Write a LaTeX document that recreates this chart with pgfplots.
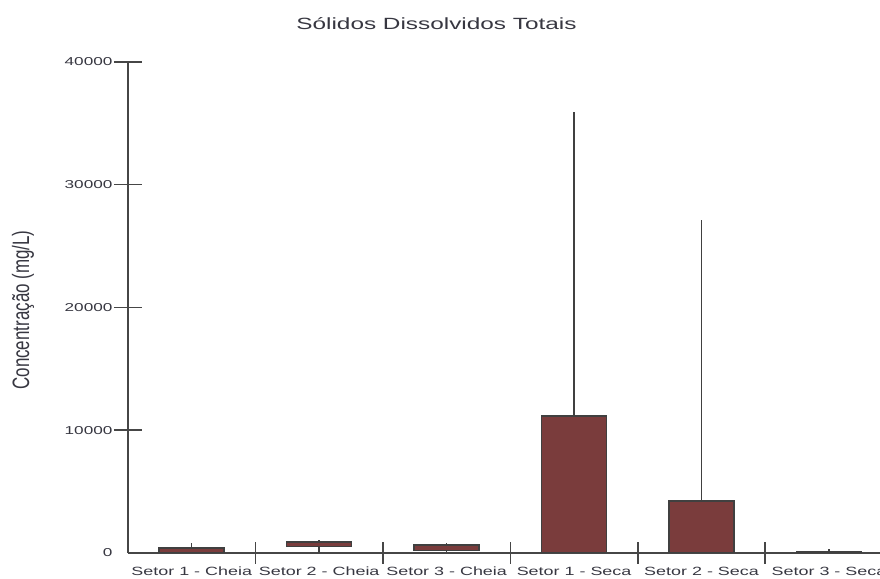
\documentclass[border=0pt]{standalone}
\usepackage{pgfplots}
\pgfplotsset{compat=1.18}
\usepackage{fontspec}
\setmainfont{Liberation Sans}
\definecolor{boxfill}{RGB}{122,60,60}
\definecolor{boxdraw}{RGB}{64,64,64}
\definecolor{txt}{RGB}{55,55,65}
\definecolor{axc}{RGB}{70,70,70}
\newcommand{\sx}[1]{\scalebox{1.5}[1]{#1}}
\begin{document}
\begin{tikzpicture}
\begin{axis}[
  at={(0bp,0bp)}, anchor=south west,
  scale only axis, width=752bp, height=491bp,
  xmin=-0.5, xmax=5.4, ymin=0, ymax=40000,
  axis lines*=left,
  axis line style={axc, line width=1.5bp},
  tick align=center,
  xtick={0,1,2,3,4,5},
  xticklabels={\sx{Setor 1 - Cheia},\sx{Setor 2 - Cheia},\sx{Setor 3 - Cheia},
    \sx{Setor 1 - Seca},\sx{Setor 2 - Seca},\sx{Setor 3 - Seca}},
  major x tick style={draw=none},
  minor xtick={0.5,1.5,2.5,3.5,4.5},
  minor tick length=21bp,
  minor x tick style={axc, line width=1.6bp},
  ytick={10000,20000,30000,40000},
  yticklabels={\sx{10000},\sx{20000},\sx{30000},\sx{40000}},
  extra y ticks={0},
  extra y tick labels={\sx{0}},
  extra y tick style={major tick length=0pt, tick label style={xshift=-14bp}},
  major tick length=28bp,
  major y tick style={axc, line width=1.5bp},
  scaled y ticks=false,
  yticklabel style={font=\fontsize{11.5}{13}\selectfont, text=txt, anchor=east, xshift=2bp},
  xticklabel style={font=\fontsize{12}{14}\selectfont, text=txt, anchor=base, yshift=-8bp},
]
% whiskers
\addplot[boxdraw, line width=1.5bp] coordinates {(0,420) (0,850)};
\addplot[boxdraw, line width=1.5bp] coordinates {(1,0) (1,520)};
\addplot[boxdraw, line width=1.5bp] coordinates {(1,900) (1,1050)};
\addplot[boxdraw, line width=1.5bp] coordinates {(2,100) (2,200)};
\addplot[boxdraw, line width=1.5bp] coordinates {(2,650) (2,850)};
\addplot[boxdraw, line width=1.5bp] coordinates {(3,11150) (3,35900)};
\addplot[boxdraw, line width=1.5bp] coordinates {(4,4250) (4,27100)};
\addplot[boxdraw, line width=1.5bp] coordinates {(5,130) (5,300)};
% boxes
\addplot[fill=boxfill, draw=boxdraw, line width=1.5bp] coordinates {(-0.255,30) (0.255,30) (0.255,420) (-0.255,420)} -- cycle;
\addplot[fill=boxfill, draw=boxdraw, line width=1.5bp] coordinates {(0.745,520) (1.255,520) (1.255,900) (0.745,900)} -- cycle;
\addplot[fill=boxfill, draw=boxdraw, line width=1.5bp] coordinates {(1.745,200) (2.255,200) (2.255,650) (1.745,650)} -- cycle;
\addplot[fill=boxfill, draw=boxdraw, line width=1.5bp] coordinates {(2.745,0) (3.255,0) (3.255,11150) (2.745,11150)} -- cycle;
\addplot[fill=boxfill, draw=boxdraw, line width=1.5bp] coordinates {(3.745,0) (4.255,0) (4.255,4250) (3.745,4250)} -- cycle;
\addplot[fill=boxfill, draw=boxdraw, line width=1.5bp] coordinates {(4.745,60) (5.255,60) (5.255,130) (4.745,130)} -- cycle;
\end{axis}
\node[font=\fontsize{16.3}{19}\selectfont, text=txt, anchor=base] at (308.5bp,523bp) {\sx{Sólidos Dissolvidos Totais}};
\node[font=\fontsize{17}{20}\selectfont, text=txt, rotate=90] at (-105bp,243bp) {\scalebox{1}[1.4]{Concentração (mg/L)}};
\pgfresetboundingbox
\useasboundingbox (-128bp,-26bp) rectangle (752bp,553bp);
\end{tikzpicture}
\end{document}
